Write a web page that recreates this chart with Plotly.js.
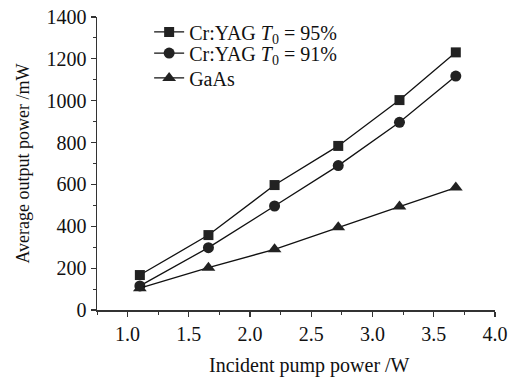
<!DOCTYPE html>
<html><head><meta charset="utf-8">
<script src="https://cdn.plot.ly/plotly-3.0.1.min.js"></script>
<style>html,body{margin:0;padding:0;background:#fff}#chart{width:514px;height:379px}</style>
</head><body><div id="chart"></div>
<script>
const pumpPower = [1.10, 1.66, 2.20, 2.72, 3.22, 3.68];
const crYag95 = [167, 358, 597, 784, 1003, 1231];
const crYag91 = [115, 298, 497, 690, 897, 1118];
const gaAs = [104, 202, 290, 395, 494, 585];
const seriesNames = ['Cr:YAG <i>T</i><sub>0</sub> = 95%', 'Cr:YAG <i>T</i><sub>0</sub> = 91%', 'GaAs'];
const xTitle = 'Incident pump power /W';
const yTitle = 'Average output power /mW';

const fam = '"Liberation Serif", "Times New Roman", serif';
const tickFont = {family: fam, size: 20, color: '#111'};
const legFont = {family: fam, size: 20, color: '#111'};
const mk = (sym, size) => ({symbol: sym, size: size, color: '#222', line: {width: 0}});
const ln = {color: '#111', width: 1.3};
const traces = [
  {x: pumpPower, y: crYag95, name: seriesNames[0], legend: 'legend', mode: 'lines+markers', line: ln, marker: mk('square', 10)},
  {x: pumpPower, y: crYag91, name: seriesNames[1], legend: 'legend2', mode: 'lines+markers', line: ln, marker: mk('circle', 11)},
  {x: pumpPower, y: gaAs, name: seriesNames[2], legend: 'legend3', mode: 'lines+markers', line: ln, marker: mk('triangle-up', 12)}
];
const axisCommon = {showgrid: false, zeroline: false, showline: true, linecolor: '#333', linewidth: 1.5,
  ticks: 'outside', ticklen: 5, tickwidth: 1.2, tickcolor: '#333', tickfont: tickFont};
const leg = (y) => ({x: 0.131, y: y, xanchor: 'left', yanchor: 'middle', bgcolor: 'rgba(0,0,0,0)', font: legFont});
const layout = {
  width: 514, height: 379,
  margin: {l: 97, r: 19, t: 17, b: 69},
  paper_bgcolor: '#fff', plot_bgcolor: '#fff',
  font: tickFont,
  showlegend: true,
  legend: leg(0.949),
  legend2: leg(0.877),
  legend3: leg(0.792),
  xaxis: Object.assign({}, axisCommon, {range: [0.75, 4.0], tick0: 1.0, dtick: 0.5, tickformat: '.1f',
    minor: {dtick: 0.25, tick0: 0.75, ticks: 'outside', ticklen: 3, tickcolor: '#333', tickwidth: 1}}),
  yaxis: Object.assign({}, axisCommon, {range: [0, 1400], dtick: 200,
    minor: {dtick: 100, ticks: 'outside', ticklen: 3, tickcolor: '#333', tickwidth: 1},
    title: {text: yTitle, font: {family: fam, size: 18, color: '#111'}, standoff: 12}}),
  annotations: [{text: xTitle, xref: 'paper', yref: 'paper', x: 0.535, y: -0.19, xanchor: 'center', yanchor: 'middle',
    showarrow: false, font: {family: fam, size: 20, color: '#111'}}]
};
Plotly.newPlot('chart', traces, layout, {displayModeBar: false, staticPlot: true});
</script></body></html>
